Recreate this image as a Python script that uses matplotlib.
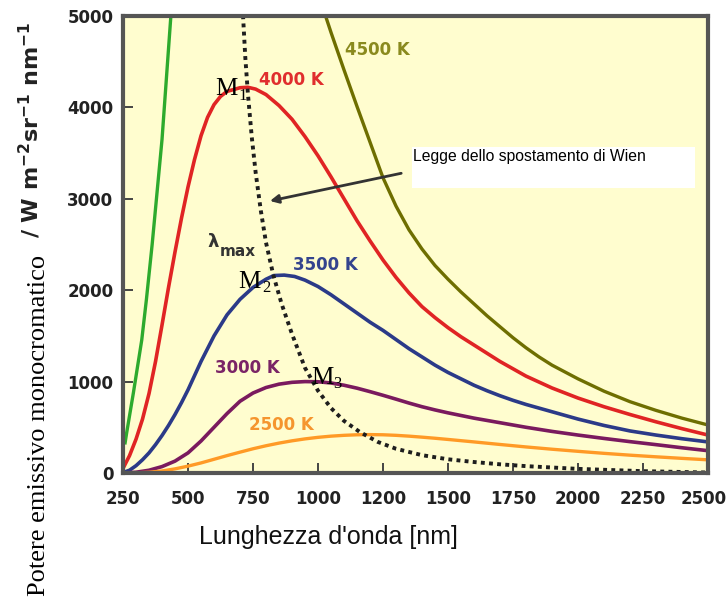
import matplotlib
matplotlib.use("Agg")
import matplotlib.pyplot as plt
from matplotlib.patches import Rectangle
from matplotlib.transforms import ScaledTranslation

# Curves (wavelength nm, W m^-2 sr^-1 nm^-1)
green_wl = [258, 264, 290, 322, 340, 362, 400, 434, 440]
green_val = [330, 440, 880, 1455, 1900, 2500, 3650, 5000, 5240]

red_wl = [250, 275, 300, 325, 350, 375, 400, 425, 450, 475, 500, 525, 550, 575,
          600, 625, 650, 700, 730, 760, 800, 850, 900, 950, 1000, 1050, 1100,
          1150, 1200, 1250, 1300, 1350, 1400, 1450, 1500, 1550, 1600, 1650,
          1700, 1750, 1800, 1900, 2000, 2100, 2200, 2300, 2400, 2500]
red_val = [50, 190, 370, 590, 870, 1220, 1620, 2030, 2420, 2790, 3130, 3430,
           3690, 3890, 4030, 4120, 4175, 4215, 4220, 4200, 4140, 4020, 3870,
           3680, 3470, 3240, 3000, 2760, 2540, 2330, 2140, 1970, 1820, 1700,
           1590, 1490, 1400, 1310, 1220, 1140, 1060, 930, 820, 725, 640, 560,
           485, 415]

olive_wl = [1000, 1050, 1100, 1150, 1200, 1250, 1300, 1350, 1400, 1450, 1500,
            1550, 1600, 1650, 1700, 1750, 1800, 1850, 1900, 2000, 2100, 2200,
            2300, 2400, 2500]
olive_val = [5250, 4820, 4410, 4010, 3620, 3230, 2920, 2660, 2450, 2270, 2120,
             1980, 1850, 1720, 1600, 1480, 1370, 1270, 1180, 1030, 895, 780,
             685, 600, 525]

blue_wl = [250, 275, 300, 325, 350, 375, 400, 425, 450, 475, 500, 550, 600, 650,
           700, 750, 800, 830, 870, 910, 950, 1000, 1050, 1100, 1150, 1200, 1250,
           1300, 1350, 1400, 1450, 1500, 1550, 1600, 1650, 1700, 1750, 1800,
           1900, 2000, 2100, 2200, 2300, 2400, 2500]
blue_val = [5, 30, 80, 145, 220, 310, 410, 520, 640, 770, 910, 1220, 1500, 1730,
            1900, 2030, 2120, 2160, 2165, 2150, 2110, 2040, 1950, 1850, 1750,
            1650, 1560, 1460, 1360, 1270, 1180, 1100, 1030, 960, 900, 845, 795,
            750, 670, 590, 520, 460, 415, 375, 340]

purple_wl = [250, 300, 350, 400, 450, 500, 550, 600, 650, 700, 750, 800, 850,
             900, 950, 1000, 1050, 1100, 1150, 1200, 1250, 1300, 1350, 1400,
             1450, 1500, 1600, 1700, 1800, 1900, 2000, 2100, 2200, 2300, 2400,
             2500]
purple_val = [0, 8, 30, 70, 130, 220, 350, 500, 650, 785, 875, 935, 972, 992,
              1000, 998, 985, 960, 928, 890, 850, 808, 765, 725, 690, 658, 600,
              550, 500, 455, 415, 378, 343, 310, 276, 244]

orange_wl = [250, 300, 350, 400, 450, 500, 550, 600, 650, 700, 750, 800, 850,
             900, 950, 1000, 1050, 1100, 1150, 1200, 1250, 1300, 1350, 1400,
             1450, 1500, 1600, 1700, 1800, 1900, 2000, 2100, 2200, 2300, 2400,
             2500]
orange_val = [0, 2, 8, 22, 45, 75, 110, 150, 190, 228, 265, 298, 327, 352, 373,
              390, 403, 412, 418, 420, 418, 412, 403, 392, 380, 367, 340, 312,
              285, 260, 237, 215, 195, 177, 160, 144]

wien_wl = [705, 712, 720, 730, 745, 760, 780, 800, 828, 860, 900, 950, 1000,
           1050, 1100, 1160, 1230, 1300, 1400, 1500, 1600, 1700, 1800, 2000,
           2250, 2500]
wien_val = [5400, 4980, 4560, 4160, 3680, 3290, 2870, 2520, 2166, 1850, 1520,
            1150, 900, 710, 570, 450, 340, 265, 195, 150, 120, 95, 75, 45, 20, 5]

x_ticks = [250, 500, 750, 1000, 1250, 1500, 1750, 2000, 2250, 2500]
x_tick_labels = ["250", "500", "750", "1000", "1200", "1500", "1750", "2000", "2250", "2500"]
y_ticks = [0, 1000, 2000, 3000, 4000, 5000]

plt.rcParams["font.family"] = "Liberation Sans"
plt.rcParams["mathtext.fontset"] = "custom"
plt.rcParams["mathtext.bf"] = "DejaVu Sans:bold"
plt.rcParams["mathtext.rm"] = "DejaVu Sans"

fig = plt.figure(figsize=(7.28, 6.01), dpi=100)
ax = fig.add_axes([0.169, 0.213, 0.8035, 0.7604])
ax.set_facecolor("#FFFDCF")

ax.plot(green_wl, green_val, color="#2DAA2D", lw=2.4)
ax.plot(olive_wl, olive_val, color="#6E6E00", lw=2.4)
ax.plot(red_wl, red_val, color="#E02424", lw=2.6)
ax.plot(blue_wl, blue_val, color="#2B3A88", lw=2.6)
ax.plot(purple_wl, purple_val, color="#7A1A5E", lw=2.6)
ax.plot(orange_wl, orange_val, color="#FF9A26", lw=2.4)
ax.plot(wien_wl, wien_val, color="#1E1E1E", lw=2.8, linestyle=(0, (1, 1.1)))

ax.set_xlim(250, 2500)
ax.set_ylim(0, 5000)
ax.set_xticks(x_ticks)
ax.set_xticklabels(x_tick_labels)
ax.set_yticks(y_ticks)
ax.tick_params(axis="both", direction="in", length=7, width=1.4, color="#444444")
ax.tick_params(axis="x", pad=12)
ax.tick_params(axis="y", pad=7)
for lab in ax.get_xticklabels() + ax.get_yticklabels():
    lab.set_family("DejaVu Sans")
    lab.set_fontweight("bold")
    lab.set_fontsize(12)
    lab.set_color("#222222")
# last x label sits against the right edge of the figure
last = ax.get_xticklabels()[-1]
last.set_horizontalalignment("right")
last.set_transform(last.get_transform() + ScaledTranslation(0.19, 0, fig.dpi_scale_trans))

for sp in ax.spines.values():
    sp.set_color("#555555")
    sp.set_linewidth(3)

# temperature labels
bold = dict(family="DejaVu Sans", fontsize=12, fontweight="bold", ha="center", va="center")
ax.text(1229, 4628, "4500 K", color="#8A8A1E", **bold)
ax.text(899, 4300, "4000 K", color="#E02E2E", **bold)
ax.text(1028, 2276, "3500 K", color="#34448E", **bold)
ax.text(728, 1149, "3000 K", color="#7A2466", **bold)
ax.text(859, 525, "2500 K", color="#F5952E", **bold)
ax.text(573, 2473, "λ", family="DejaVu Sans", fontsize=13, fontweight="bold",
        color="#333333", va="baseline")
ax.text(622, 2374, "max", family="DejaVu Sans", fontsize=11, fontweight="bold",
        color="#333333", va="baseline")

# maxima markers
serif = "Liberation Serif"
ax.text(603, 4136, "M", family=serif, fontsize=18, va="baseline")
ax.text(695, 4081, "1", family=serif, fontsize=12, va="baseline")
ax.text(692, 2024, "M", family=serif, fontsize=18, va="baseline")
ax.text(784, 1980, "2", family=serif, fontsize=12, va="baseline")
ax.text(972, 974, "M", family=serif, fontsize=18, va="baseline")
ax.text(1060, 930, "3", family=serif, fontsize=12, va="baseline")

# Wien law callout
ax.add_patch(Rectangle((0.494, 0.624), 0.484, 0.09, transform=ax.transAxes,
                       facecolor="white", edgecolor="none", zorder=3))
ax.text(0.4965, 0.6915, "Legge dello spostamento di Wien", transform=ax.transAxes,
        fontsize=11.3, va="center", ha="left", zorder=4)
ax.annotate("", xy=(815, 2976), xytext=(1320, 3279),
            arrowprops=dict(arrowstyle="-|>,head_length=0.5,head_width=0.25",
                            color="#333333", lw=2, shrinkA=0, shrinkB=0),
            zorder=5)

fig.text(0.4512, 0.1065, "Lunghezza d'onda [nm]", fontsize=18, ha="center",
         va="center", color="#111111")
fig.text(0.041, 0.784, r"/ W m$^{\mathbf{-2}}$sr$^{\mathbf{-1}}$ nm$^{\mathbf{-1}}$",
         family="DejaVu Sans", rotation=90, fontsize=16, fontweight="bold",
         ha="center", va="center", color="#222222")
fig.text(0.054, 0.292, "Potere emissivo monocromatico", family=serif, rotation=90,
         fontsize=19, ha="center", va="center")

fig.savefig("out.png", dpi=100)
